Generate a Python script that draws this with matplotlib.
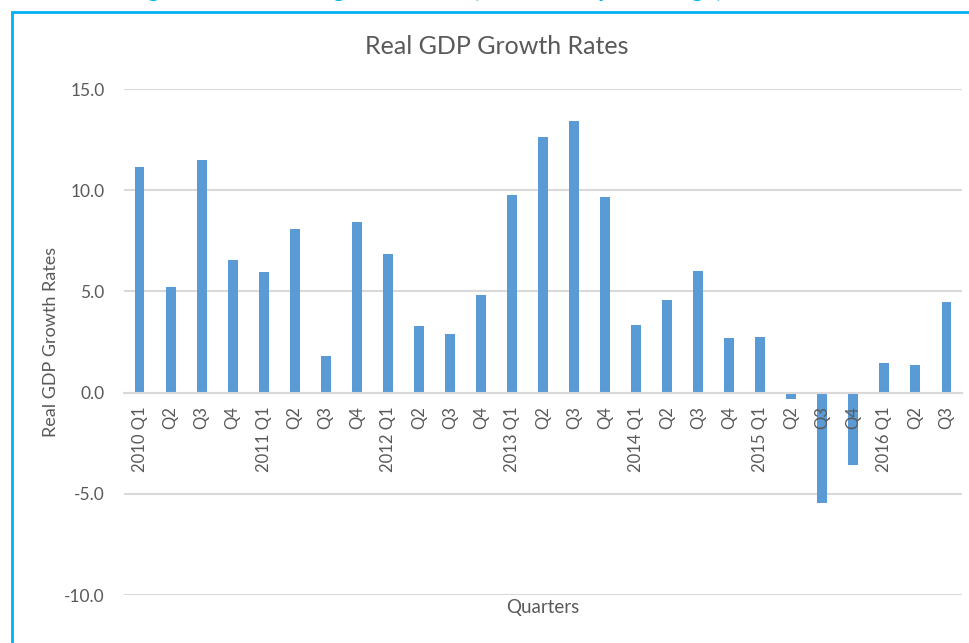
import numpy as np
import matplotlib
matplotlib.use("Agg")
import matplotlib.pyplot as plt
from matplotlib.patches import Rectangle

plt.rcParams['font.family'] = ['Lato', 'DejaVu Sans']

# quarterly real GDP growth, percent
quarters = ["2010 Q1", "Q2", "Q3", "Q4",
            "2011 Q1", "Q2", "Q3", "Q4",
            "2012 Q1", "Q2", "Q3", "Q4",
            "2013 Q1", "Q2", "Q3", "Q4",
            "2014 Q1", "Q2", "Q3", "Q4",
            "2015 Q1", "Q2", "Q3", "Q4",
            "2016 Q1", "Q2", "Q3"]
growth = [11.16, 5.22, 11.50, 6.54,
          5.96, 8.06, 1.83, 8.44,
          6.84, 3.28, 2.88, 4.80,
          9.76, 12.63, 13.42, 9.66,
          3.33, 4.56, 6.02, 2.70,
          2.75, -0.32, -5.45, -3.58,
          1.48, 1.34, 4.50]
yticks = [-10, -5, 0, 5, 10, 15]

W, H = 969, 643
bar_color = "#5B9BD5"
grid_color = "#D9D9D9"
text_color = "#595959"
frame_color = "#00B0F0"

fig = plt.figure(figsize=(W / 100, H / 100), dpi=100)
ax = fig.add_axes([124 / W, 48 / H, (962 - 124) / W, (595 - 89) / H])

x = np.arange(len(quarters))
ax.bar(x, growth, width=0.32, color=bar_color, zorder=1)

# horizontal gridlines under the bars
for v in yticks:
    ax.axhline(v, color=grid_color, lw=1.5, zorder=0.5)

# category labels hang from the zero line
for side in ["top", "left", "right"]:
    ax.spines[side].set_visible(False)
ax.spines["bottom"].set_position(("data", 0))
ax.spines["bottom"].set_color(grid_color)
ax.spines["bottom"].set_linewidth(1.5)

ax.set_xlim(-0.5, len(quarters) - 0.5)
ax.set_ylim(-10, 15)
ax.set_yticks(yticks)
ax.set_yticklabels([f"{v:.1f}" for v in yticks])
ax.set_xticks(x)
ax.set_xticklabels(quarters)

ax.tick_params(axis="y", length=0, pad=14, labelsize=12.5, labelcolor=text_color)
ax.tick_params(axis="x", length=0, pad=10, labelsize=12, labelcolor=text_color,
               labelrotation=90)

ax.set_xlabel("Quarters", fontsize=13.5, color=text_color)
ax.xaxis.set_label_coords(0.5, -0.008)
ax.set_ylabel("Real GDP Growth Rates", fontsize=13, color=text_color)
ax.yaxis.set_label_coords(-0.078, 0.5)

fig.text(497 / W, 1 - 47 / H, "Real GDP Growth Rates", ha="center", va="center",
         fontsize=18, color=text_color)

# caption above the chart box, mostly cut off by the top edge
fig.text(128 / W, 1 + 3 / H, "Figure 1: Real GDP growth rates (annualized percentage)",
         ha="left", va="baseline", fontsize=17, fontweight="bold", color=frame_color)

# blue box around the chart
fig.add_artist(Rectangle((12 / W, -0.1), 1.2, 1.1 - 12 / H, transform=fig.transFigure,
                         fill=False, edgecolor=frame_color, lw=2))

fig.savefig("out.png", dpi=100)
